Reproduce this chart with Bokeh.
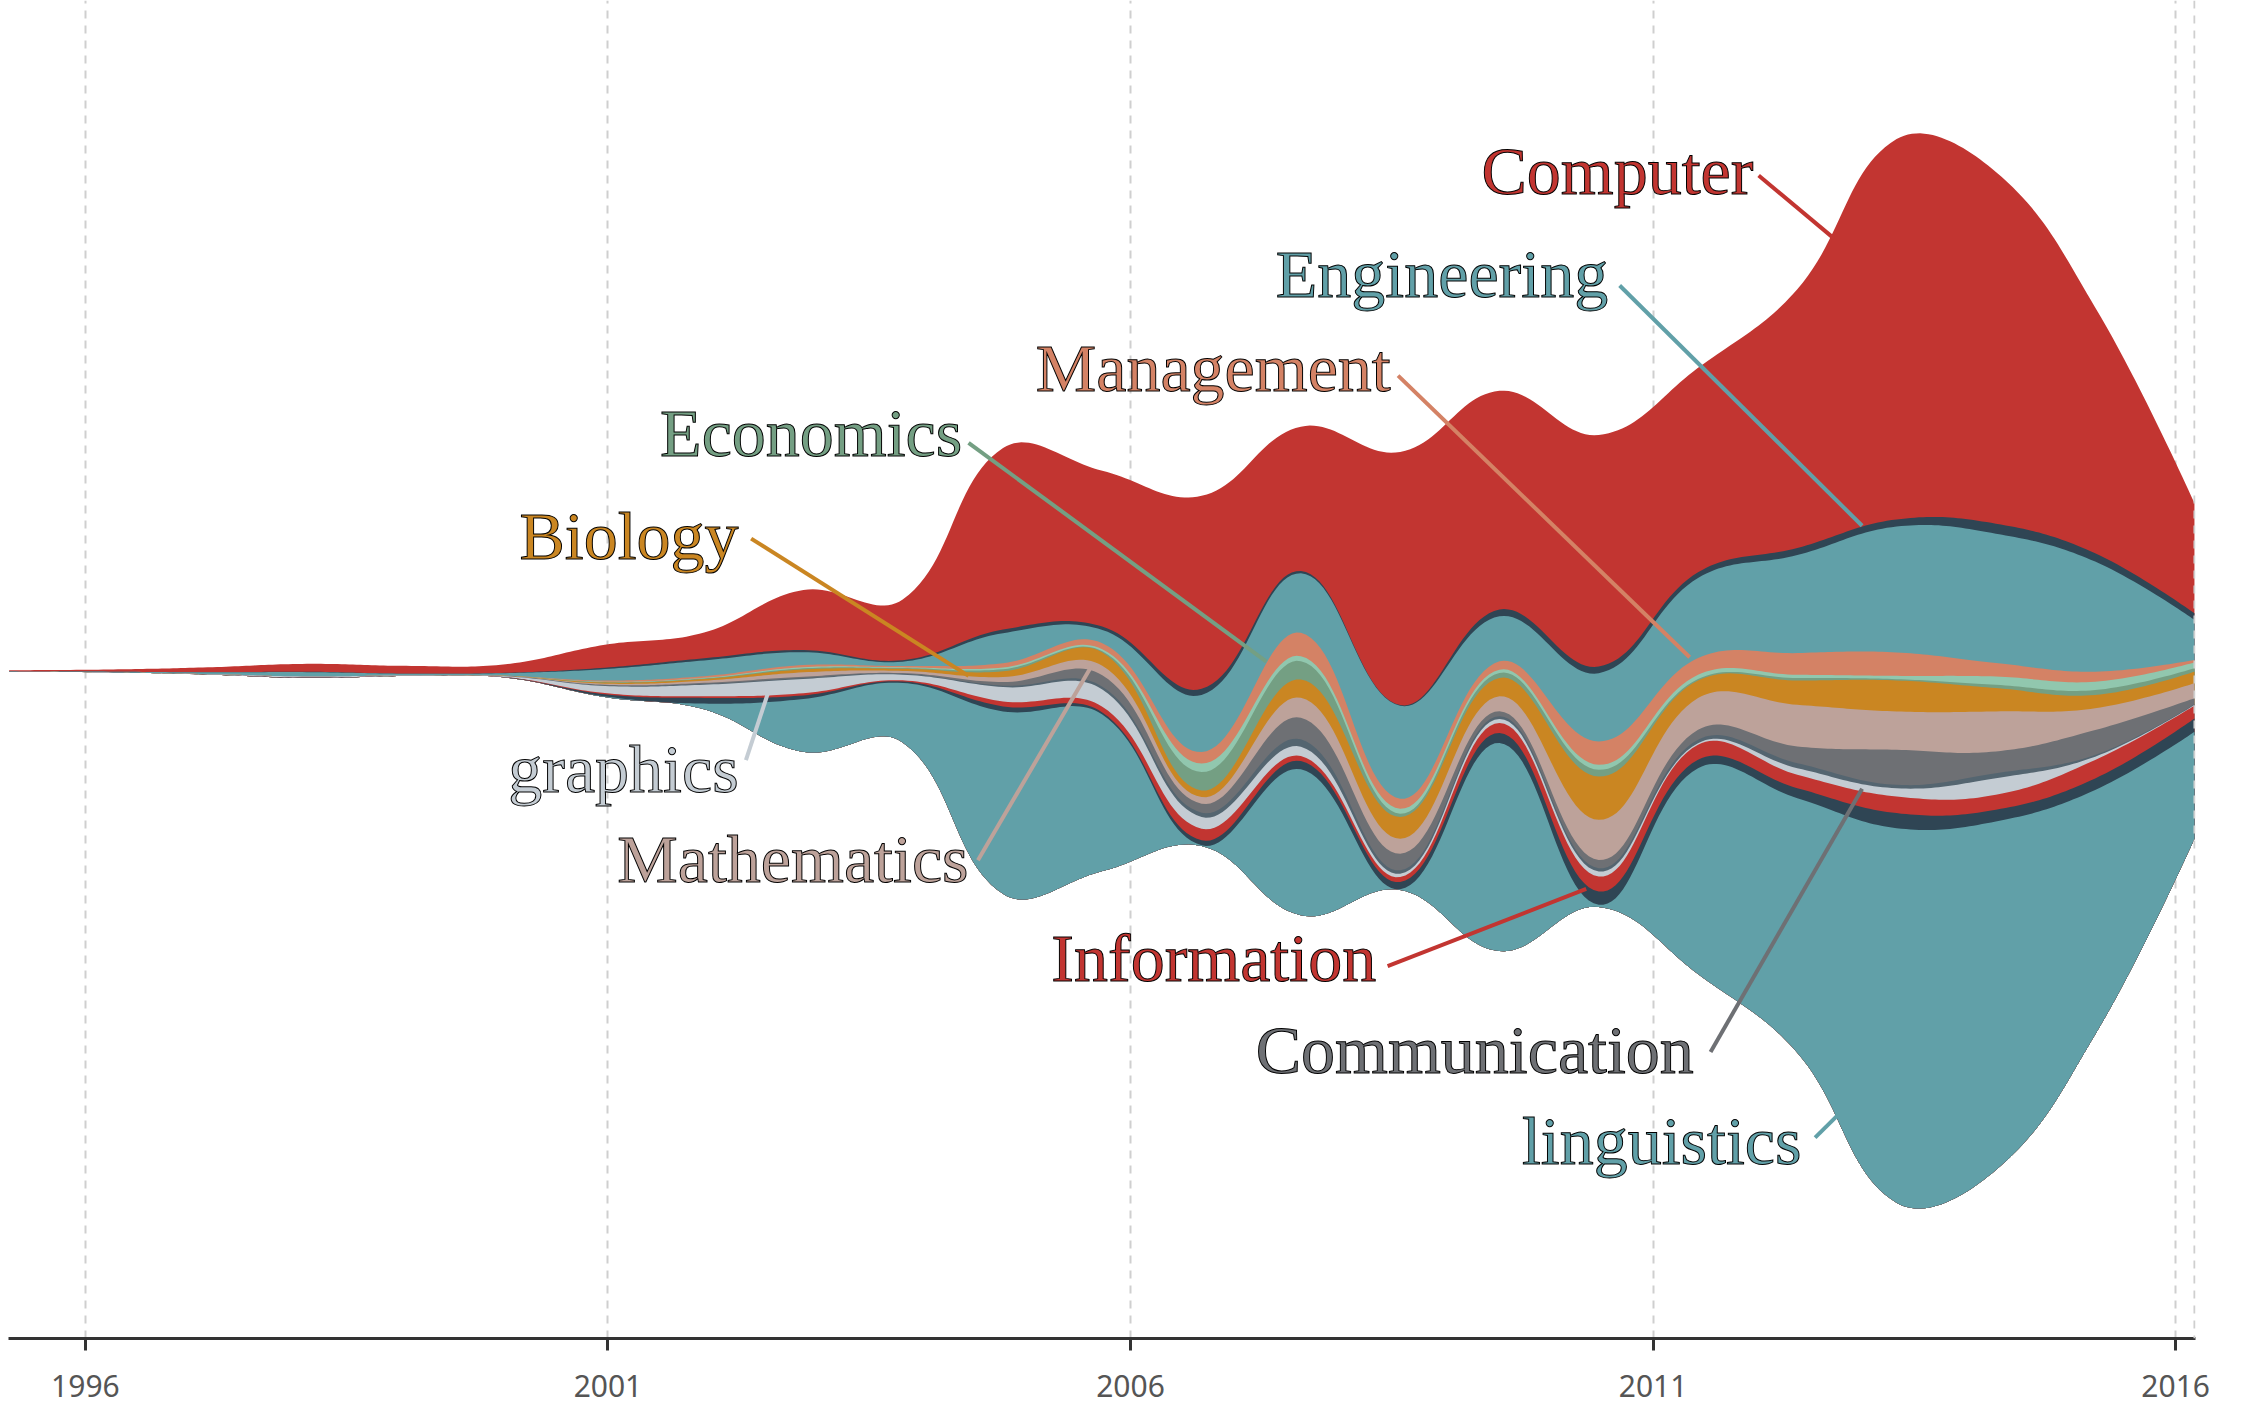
import numpy as np
from bokeh.plotting import figure
from bokeh.models import Range1d, FixedTicker, Span, ColumnDataSource
from bokeh.core.properties import value
from bokeh.embed import file_html
from bokeh.resources import INLINE

# ---------------- data ----------------
years = [1995.27, 1996.22, 1997.17, 1998.12, 1999.07, 2000.02, 2000.97, 2001.92,
         2002.87, 2003.82, 2004.78, 2005.73, 2006.68, 2007.63, 2008.58, 2009.53,
         2010.48, 2011.43, 2012.38, 2013.33, 2014.28, 2015.23, 2016.18]

computer      = [0.8, 1.5, 3.5, 5.5, 5.5, 6, 16, 18, 42, 42.5, 127, 109, 135, 101, 177, 153, 162, 143, 181, 266, 246, 172, 77]
series_b      = [0, 0, 0, 0.3, 0, 0.2, 1, 1.5, 1.5, 1, 2.5, 2.3, 4.2, 1.6, 0.5, 4.7, 4.6, 4, 5, 5, 7, 5.8, 4.6]
engineering   = [0.2, 0.5, 1.2, 3, 1.2, 1.8, 8, 11, 9, 3, 21, 9.3, 40, 41.6, 65, 31.5, 47.8, 56, 68.5, 88, 90.5, 77, 28]
management    = [0, 0, 0, 0, 0, 0.1, 0.8, 1.2, 1.5, 1, 3, 4.2, 8, 16.3, 7, 5.8, 16.3, 11.7, 15.2, 16.4, 9.4, 7, 1.8]
series_e      = [0, 0, 0, 0, 0, 0, 0.3, 0.4, 0.8, 0.5, 1.2, 1.4, 6, 3.5, 3.5, 2.3, 3.5, 3, 2.3, 2.3, 5.8, 5.8, 4]
economics     = [0, 0, 0, 0, 0, 0, 0.3, 0.4, 0.8, 0.5, 1.5, 0.9, 12.8, 12.8, 2.3, 3.5, 4.7, 1, 1.7, 0.9, 2.3, 3.5, 2.4]
biology       = [0, 0, 0, 0, 0, 0.1, 0.8, 1.2, 2, 1.5, 4, 9.3, 4.7, 12.8, 15.2, 12.8, 30.3, 12.3, 17, 21.7, 16.3, 9.3, 8.1]
mathematics   = [0, 0, 0, 0, 0, 0.1, 0.8, 1.5, 3, 1.5, 3.5, 6.6, 4.6, 14, 10.5, 10.5, 28, 22.2, 29.1, 26.8, 28, 15.2, 10.5]
communication = [0, 0, 0, 0, 0, 0.1, 0.5, 0.8, 1, 0.7, 2.5, 8, 6.3, 15.1, 11.6, 3.5, 5.8, 6.9, 11.7, 24.5, 15.2, 17.4, 4.2]
series_j      = [0, 0, 0, 0, 0, 0, 0.3, 0.5, 0.6, 0.4, 1, 2, 3, 5.2, 2.4, 1.9, 2.3, 2.4, 3.5, 2.4, 3.5, 1.2, 0.5]
graphics      = [0, 0, 0.3, 0.8, 0.4, 0.6, 5, 8, 10, 4, 10, 12, 8.2, 6.5, 2.3, 2.8, 3.5, 1.1, 4.6, 5.8, 11.6, 2.3, 0.5]
information   = [0, 0, 0, 0, 0, 0.1, 0.8, 1.2, 1.5, 0.8, 3.5, 4, 8.1, 3.5, 3.5, 7, 10.5, 10.5, 9.4, 11.6, 10.5, 12.9, 9]
series_m      = [0, 0, 0, 0.3, 0, 0.2, 1.5, 4, 2.5, 1, 3.5, 1.5, 3.5, 5.8, 5, 7, 9.3, 5.9, 7, 10.5, 8.2, 8.1, 9.3]
linguistics   = [0, 0, 0, 0, 0, 0, 0.5, 4, 37, 41.6, 127.6, 109.5, 0.5, 102, 0.5, 145.5, 1.5, 144, 178, 262, 243.7, 171, 74.7]

series_values = [computer, series_b, engineering, management, series_e, economics, biology,
                 mathematics, communication, series_j, graphics, information, series_m, linguistics]

tick_years = [1996, 2001, 2006, 2011, 2016]
tick_labels = ["1996", "2001", "2006", "2011", "2016"]

palette = ['#c23531', '#2f4554', '#61a0a8', '#d48265', '#91c7ae', '#749f83',
           '#ca8622', '#bda29a', '#6e7074', '#546570', '#c4ccd3']
colors = [palette[i % len(palette)] for i in range(len(series_values))]

# label annotations: (text, series index, text x, text y, leader x0, y0, x1, y1)
label_names = ["Computer", "Engineering", "Management", "Economics", "Biology",
               "graphics", "Mathematics", "Information", "Communication", "linguistics"]
label_series = [0, 2, 3, 5, 6, 10, 7, 11, 8, 13]
label_pos = [
    (2011.96, 721.5, 2012.01, 718.5, 2012.73, 674.5),
    (2010.57, 649.5, 2010.68, 641.5, 2013.00, 473.5),
    (2008.49, 583.5, 2008.56, 578.5, 2011.35, 381.5),
    (2004.39, 538.5, 2004.45, 531.5, 2007.30, 378.5),
    (2002.25, 466.5, 2002.37, 464.5, 2004.45, 368.5),
    (2002.25, 303.5, 2002.32, 309.5, 2002.54, 358.5),
    (2004.45, 240.5, 2004.54, 239.5, 2005.62, 374.5),
    (2008.35, 171.5, 2008.46, 165.5, 2010.36, 219.5),
    (2011.39, 106.5, 2011.55, 105.5, 2013.00, 289.5),
    (2012.42, 43.5, 2012.55, 45.5, 2012.77, 61.5),
]

# ---------------- theme-river layout ----------------
V = np.array(series_values, dtype=float)
sums = V.sum(axis=0)
vmax = sums.max()
base = (vmax - sums) / 2.0
tops = [base + V[i:].sum(axis=0) for i in range(V.shape[0])]

XS = 73.1   # relative screen scale of one year vs one value unit
def smooth_curve(xs, ys, sm=0.4, n=24):
    P = np.column_stack([np.asarray(xs, float) * XS, np.asarray(ys, float)])
    m = len(P)
    cin = P.copy(); cout = P.copy()
    for i in range(1, m - 1):
        v = (P[i + 1] - P[i - 1]) * sm
        d0 = np.hypot(*(P[i] - P[i - 1])); d1 = np.hypot(*(P[i] - P[i + 1]))
        s = d0 + d1
        if s > 0:
            d0 /= s; d1 /= s
        cin[i] = P[i] - v * d0
        cout[i] = P[i] + v * d1
    t = np.linspace(0, 1, n, endpoint=False)[:, None]
    segs = []
    for i in range(m - 1):
        p0, p1, p2, p3 = P[i], cout[i], cin[i + 1], P[i + 1]
        segs.append(((1 - t) ** 3) * p0 + 3 * ((1 - t) ** 2) * t * p1 + 3 * (1 - t) * t ** 2 * p2 + t ** 3 * p3)
    segs.append(P[-1][None, :])
    out = np.vstack(segs)
    return out[:, 0] / XS, out[:, 1]

# ---------------- figure ----------------
p = figure(frame_width=2187, frame_height=1338, output_backend="svg", toolbar_location=None,
           x_range=Range1d(1995.264, 2016.19), y_range=Range1d(-94.95, 840.85),
           y_axis_location=None, min_border_left=8, min_border_right=31,
           min_border_top=0, min_border_bottom=69)
p.outline_line_color = None
p.background_fill_color = "white"
p.border_fill_color = "white"

bx, by = smooth_curve(years, base)
for i in range(V.shape[0]):
    tx, ty = smooth_curve(years, tops[i])
    px = np.concatenate([tx, bx[::-1]])
    py = np.concatenate([ty, by[::-1]])
    p.patch(px, py, fill_color=colors[i], line_color=None)

# axis & grid
p.xaxis.ticker = FixedTicker(ticks=tick_years)
p.xaxis.major_label_overrides = {y: s for y, s in zip(tick_years, tick_labels)}
p.xaxis.axis_line_color = "#333333"
p.xaxis.axis_line_width = 3
p.xaxis.major_tick_line_color = "#333333"
p.xaxis.major_tick_line_width = 3
p.xaxis.major_tick_in = 0
p.xaxis.major_tick_out = 12
p.xaxis.minor_tick_line_color = None
p.xaxis.major_label_text_font = "Noto Sans"
p.xaxis.major_label_text_font_size = "30px"
p.xaxis.major_label_text_color = "#555555"
p.xaxis.major_label_standoff = 24
p.xgrid.ticker = FixedTicker(ticks=tick_years)
p.xgrid.grid_line_color = "#cfcfcf"
p.xgrid.grid_line_width = 2
p.xgrid.grid_line_dash = "8 7"
p.ygrid.visible = False
p.add_layout(Span(location=years[-1], dimension="height", line_color="#cfcfcf",
                  line_width=2, line_dash="8 7"))

# leader lines and labels
src = ColumnDataSource(dict(
    text=label_names,
    color=[colors[s] for s in label_series],
    tx=[lp[0] for lp in label_pos], ty=[lp[1] for lp in label_pos],
    x0=[lp[2] for lp in label_pos], y0=[lp[3] for lp in label_pos],
    x1=[lp[4] for lp in label_pos], y1=[lp[5] for lp in label_pos],
))
p.segment(x0="x0", y0="y0", x1="x1", y1="y1", source=src, line_color="color", line_width=4)
try:
    p.text(x="tx", y="ty", text="text", source=src, text_color="color",
           text_font=value("Liberation Serif"), text_font_size="68px",
           text_align="right", text_baseline="middle", text_outline_color="black")
except Exception:
    p.text(x="tx", y="ty", text="text", source=src, text_color="color",
           text_font=value("Liberation Serif"), text_font_size="68px",
           text_align="right", text_baseline="middle")

open("out.html", "w").write(file_html(p, INLINE))
